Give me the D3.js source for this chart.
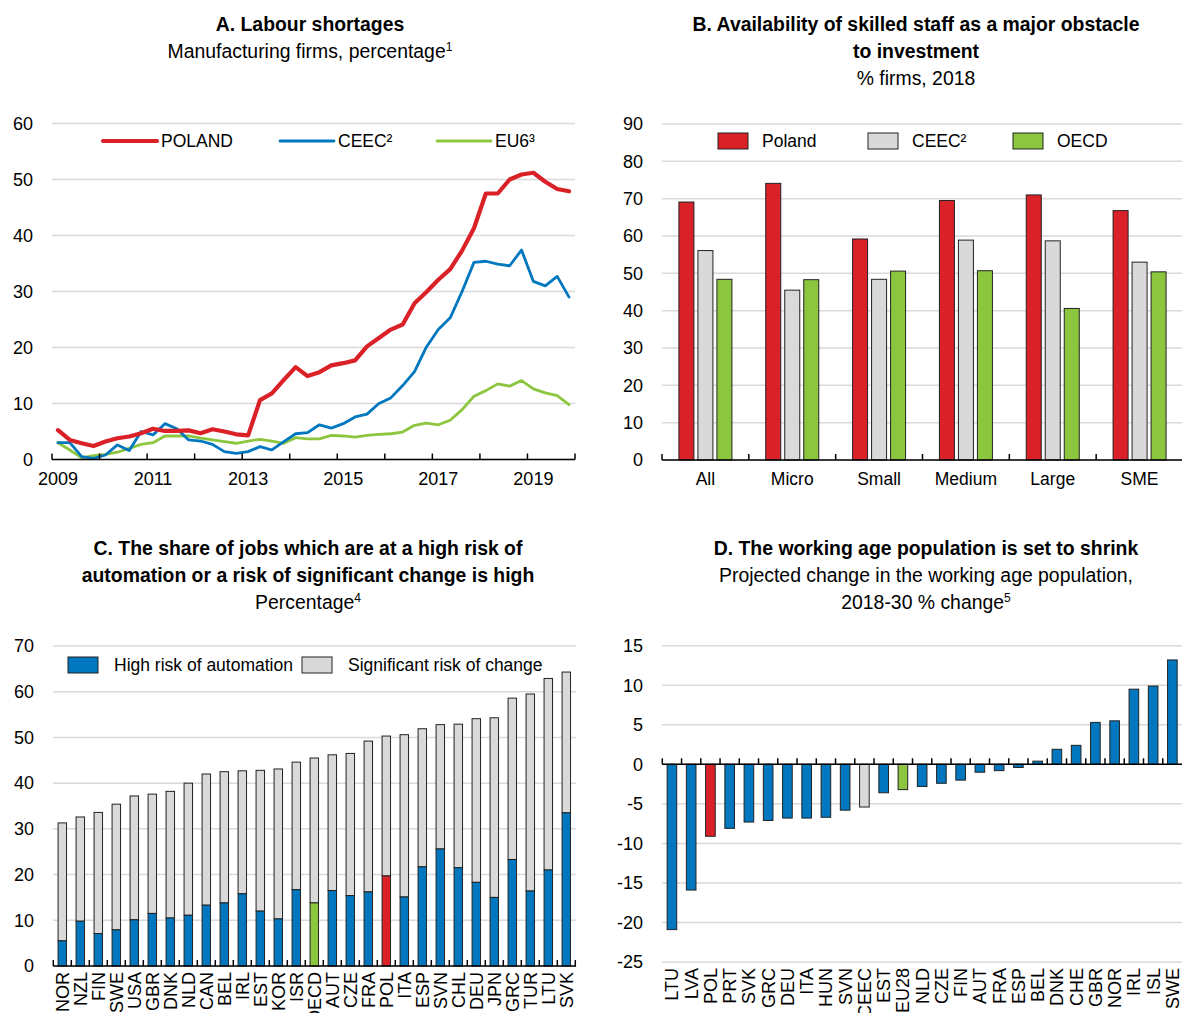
<!DOCTYPE html>
<html><head><meta charset="utf-8">
<script src="https://cdn.jsdelivr.net/npm/d3@7"></script>
<style>
body{margin:0;background:#fff;}
text{font-family:"Liberation Sans",Arial,sans-serif;fill:#000;}
</style></head>
<body>
<svg id="c" width="1182" height="1013"></svg>
<script>
// ---------- DATA ----------
// Panel A: quarterly 2009Q1 - 2019Q4
const aStartYear = 2009;
const aYearTicks = [2009,2010,2011,2012,2013,2014,2015,2016,2017,2018,2019,2020];
const aYearLabels = [2009,2011,2013,2015,2017,2019];
const polandA = [5.25,3.5,2.9,2.4,3.2,3.8,4.1,4.7,5.5,5.1,5.1,5.2,4.7,5.4,5.0,4.5,4.3,10.6,11.8,14.2,
  16.5,14.9,15.6,16.8,17.2,17.7,20.2,21.7,23.2,24.1,27.9,29.9,32.1,34.0,37.3,41.3,47.5,47.5,50.0,50.9,51.2,49.6,48.3,47.9];
const ceecA = [3.0,3.0,0.5,0.2,0.8,2.6,1.6,5.0,4.4,6.4,5.5,3.5,3.3,2.7,1.4,1.1,1.4,2.3,1.7,3.2,
  4.6,4.8,6.2,5.6,6.4,7.6,8.1,10.0,11.0,13.2,15.7,20.1,23.2,25.3,30.0,35.2,35.4,34.9,34.6,37.4,31.8,31.0,32.7,29.0];
const eu6A = [3.0,1.7,0.3,0.7,0.9,1.3,2.0,2.7,3.0,4.2,4.2,4.2,3.8,3.5,3.2,2.9,3.3,3.6,3.3,2.9,
  3.9,3.7,3.7,4.3,4.2,4.0,4.3,4.5,4.6,4.9,6.1,6.5,6.2,7.0,8.9,11.3,12.3,13.5,13.1,14.1,12.6,11.9,11.4,9.8];
const aSeriesNames = ["POLAND","CEEC²","EU6³"];
const aTicks = [0,10,20,30,40,50,60];

// Panel B
const bCategories = ["All","Micro","Small","Medium","Large","SME"];
const bSeriesNames = ["Poland","CEEC²","OECD"];
const polandB = [69.1,74.1,59.2,69.5,71.0,66.8];
const ceecB = [56.1,45.5,48.4,58.9,58.7,53.0];
const oecdB = [48.4,48.3,50.6,50.7,40.6,50.4];
const bTicks = [0,10,20,30,40,50,60,70,80,90];

// Panel C
const cCountries = ["NOR","NZL","FIN","SWE","USA","GBR","DNK","NLD","CAN","BEL","IRL","EST","KOR","ISR","OECD","AUT","CZE","FRA","POL","ITA","ESP","SVN","CHL","DEU","JPN","GRC","TUR","LTU","SVK"];
const cHighRisk = [5.5,9.8,7.1,7.9,10.1,11.5,10.5,11.1,13.3,13.8,15.8,12.0,10.3,16.7,13.8,16.5,15.4,16.2,19.7,15.1,21.7,25.6,21.5,18.3,15.0,23.3,16.4,21.0,33.5];
const cSignificantChange = [25.8,22.8,26.5,27.5,27.1,26.1,27.7,28.9,28.7,28.7,26.9,30.8,32.8,27.9,31.7,29.7,31.1,33.0,30.6,35.5,30.2,27.2,31.4,35.8,39.3,35.3,43.1,41.9,30.8];
const cSeriesNames = ["High risk of automation","Significant risk of change"];
const cTicks = [0,10,20,30,40,50,60,70];

// Panel D
const dCountries = ["LTU","LVA","POL","PRT","SVK","GRC","DEU","ITA","HUN","SVN","CEEC","EST","EU28","NLD","CZE","FIN","AUT","FRA","ESP","BEL","DNK","CHE","GBR","NOR","IRL","ISL","SWE"];
const dChange = [-20.9,-15.9,-9.1,-8.1,-7.3,-7.1,-6.8,-6.8,-6.7,-5.8,-5.4,-3.6,-3.2,-2.8,-2.4,-2.0,-1.0,-0.8,-0.4,0.4,1.9,2.4,5.3,5.5,9.5,9.9,13.2];
const dTicks = [-25,-20,-15,-10,-5,0,5,10,15];

// ---------- STYLE ----------
const RED="#DA2128", BLUE="#0077BE", GREEN="#8CC63F", GREY="#D9D9D9", GRID="#D9D9D9";
const svg = d3.select("#c");
const FS = 18;

function title(lines, cx, y0){
  lines.forEach((l,i)=>{
    const t = svg.append("text").attr("x",cx).attr("y",y0+i*27).attr("text-anchor","middle")
      .style("font-size","19.4px").style("font-weight",l.bold?"bold":"normal");
    t.append("tspan").text(l.t);
    if(l.sup){ t.append("tspan").attr("dy",-7).style("font-size","12px").text(l.sup); }
  });
}
function yAxis(y, ticks, x0, x1, labelX){
  const g = svg.append("g");
  ticks.forEach(t=>{
    g.append("line").attr("x1",x0).attr("x2",x1).attr("y1",y(t)).attr("y2",y(t))
      .attr("stroke",GRID).attr("stroke-width",1.5);
    g.append("text").attr("x",labelX).attr("y",y(t)).attr("dy","0.35em").attr("text-anchor","end")
      .style("font-size",FS+"px").text(t);
  });
}
function baseAxis(x0,x1,yv,tickXs){
  svg.append("line").attr("x1",x0).attr("x2",x1).attr("y1",yv).attr("y2",yv).attr("stroke","#000").attr("stroke-width",1.5);
  tickXs.forEach(tx=>svg.append("line").attr("x1",tx).attr("x2",tx).attr("y1",yv).attr("y2",yv-6).attr("stroke","#000").attr("stroke-width",1.5));
}

// ---------- PANEL A ----------
title([{t:"A. Labour shortages",bold:true},{t:"Manufacturing firms, percentage",sup:"1"}],310,31);
{
  const nQ = polandA.length;
  const x = d3.scaleLinear().domain([0,nQ]).range([52,575]);
  const y = d3.scaleLinear().domain([0,60]).range([459.5,123.5]);
  yAxis(y,aTicks,52,575,33);
  const line = d3.line().x((d,i)=>x(i+0.5)).y(d=>y(d));
  const series = [{v:eu6A,c:GREEN,w:2.8},{v:ceecA,c:BLUE,w:2.8},{v:polandA,c:RED,w:4.2}];
  series.forEach(s=>svg.append("path").datum(s.v).attr("d",line).attr("fill","none")
    .attr("stroke",s.c).attr("stroke-width",s.w).attr("stroke-linejoin","round").attr("stroke-linecap","round"));
  baseAxis(52,575,y(0),aYearTicks.map(yr=>x((yr-aStartYear)*4)));
  aYearLabels.forEach(yr=>svg.append("text").attr("x",x((yr-aStartYear)*4+0.5)).attr("y",485)
    .attr("text-anchor","middle").style("font-size",FS+"px").text(yr));
  // legend
  const leg = [{n:aSeriesNames[0],c:RED,w:4.2,x:103},{n:aSeriesNames[1],c:BLUE,w:2.8,x:280},{n:aSeriesNames[2],c:GREEN,w:2.8,x:437}];
  leg.forEach(l=>{
    svg.append("line").attr("x1",l.x).attr("x2",l.x+54).attr("y1",141).attr("y2",141)
      .attr("stroke",l.c).attr("stroke-width",l.w).attr("stroke-linecap","round");
    svg.append("text").attr("x",l.x+58).attr("y",141).attr("dy","0.35em").style("font-size","17.5px").text(l.n);
  });
}

// ---------- PANEL B ----------
title([{t:"B. Availability of skilled staff as a major obstacle",bold:true},{t:"to investment",bold:true},{t:"% firms, 2018"}],916,31);
{
  const x0 = d3.scaleBand().domain(bCategories).range([662,1183]);
  const x1 = d3.scaleBand().domain(bSeriesNames).range([0,x0.bandwidth()]).paddingInner(0.21).paddingOuter(0.89);
  const y = d3.scaleLinear().domain([0,90]).range([460,124]);
  yAxis(y,bTicks,662,1182,643);
  const vals = [polandB,ceecB,oecdB], cols=[RED,GREY,GREEN];
  bCategories.forEach((c,i)=>{
    bSeriesNames.forEach((s,j)=>{
      svg.append("rect").attr("x",x0(c)+x1(s)).attr("width",x1.bandwidth())
        .attr("y",y(vals[j][i])).attr("height",y(0)-y(vals[j][i]))
        .attr("fill",cols[j]).attr("stroke","#222").attr("stroke-width",1);
    });
    svg.append("text").attr("x",x0(c)+x0.bandwidth()/2).attr("y",485).attr("text-anchor","middle")
      .style("font-size","17.5px").text(c);
  });
  baseAxis(662,1182,y(0),bCategories.map(c=>x0(c)));
  const lx=[718,868,1013];
  bSeriesNames.forEach((s,j)=>{
    svg.append("rect").attr("x",lx[j]).attr("y",133).attr("width",30).attr("height",16)
      .attr("fill",cols[j]).attr("stroke","#222").attr("stroke-width",1);
    svg.append("text").attr("x",lx[j]+44).attr("y",141).attr("dy","0.35em").style("font-size","17.5px").text(s);
  });
}

// ---------- PANEL C ----------
title([{t:"C. The share of jobs which are at a high risk of",bold:true},{t:"automation or a risk of significant change is high",bold:true},{t:"Percentage",sup:"4"}],308,555);
{
  const x = d3.scaleBand().domain(cCountries).range([53.3,575.3]).paddingInner(0.53).paddingOuter(0.265);
  const y = d3.scaleLinear().domain([0,70]).range([966,646]);
  yAxis(y,cTicks,53,576,34);
  cCountries.forEach((c,i)=>{
    const h=cHighRisk[i], s=cSignificantChange[i];
    const fc = c==="POL"?RED:(c==="OECD"?GREEN:BLUE);
    svg.append("rect").attr("x",x(c)).attr("width",x.bandwidth()).attr("y",y(h+s)).attr("height",y(h)-y(h+s))
      .attr("fill",GREY).attr("stroke","#222").attr("stroke-width",1);
    svg.append("rect").attr("x",x(c)).attr("width",x.bandwidth()).attr("y",y(h)).attr("height",y(0)-y(h))
      .attr("fill",fc).attr("stroke","#222").attr("stroke-width",1);
    const cx = x(c)+x.bandwidth()/2;
    svg.append("text").attr("transform",`translate(${cx},972) rotate(-90)`).attr("dy","0.36em")
      .attr("text-anchor","end").style("font-size",FS+"px").text(c);
  });
  const step = x.step();
  baseAxis(53.3,576,y(0),cCountries.map((c,i)=>53.3+i*step).concat([575.3]));
  svg.append("rect").attr("x",68).attr("y",657).attr("width",30).attr("height",16).attr("fill",BLUE).attr("stroke","#222");
  svg.append("text").attr("x",114).attr("y",665).attr("dy","0.35em").style("font-size","17.5px").text(cSeriesNames[0]);
  svg.append("rect").attr("x",302).attr("y",657).attr("width",30).attr("height",16).attr("fill",GREY).attr("stroke","#222");
  svg.append("text").attr("x",348).attr("y",665).attr("dy","0.35em").style("font-size","17.5px").text(cSeriesNames[1]);
}

// ---------- PANEL D ----------
title([{t:"D. The working age population is set to shrink",bold:true},{t:"Projected change in the working age population,"},{t:"2018-30 % change",sup:"5"}],926,555);
{
  const x = d3.scaleBand().domain(dCountries).range([662.3,1182]).paddingInner(0.5).paddingOuter(0.25);
  const y = d3.scaleLinear().domain([-25,15]).range([962,645.7]);
  yAxis(y,dTicks,662,1182,643);
  dCountries.forEach((c,i)=>{
    const v=dChange[i];
    const fc = c==="POL"?RED:(c==="EU28"?GREEN:(c==="CEEC"?GREY:BLUE));
    svg.append("rect").attr("x",x(c)).attr("width",x.bandwidth()).attr("y",y(Math.max(0,v)))
      .attr("height",Math.abs(y(v)-y(0))).attr("fill",fc).attr("stroke","#222").attr("stroke-width",1);
    const cx = x(c)+x.bandwidth()/2;
    svg.append("text").attr("transform",`translate(${cx},968) rotate(-90)`).attr("dy","0.36em")
      .attr("text-anchor","end").style("font-size",FS+"px").text(c);
  });
  const step=x.step();
  baseAxis(662.3,1182,y(0),dCountries.map((c,i)=>662.3+i*step));
}
</script>
</body></html>
